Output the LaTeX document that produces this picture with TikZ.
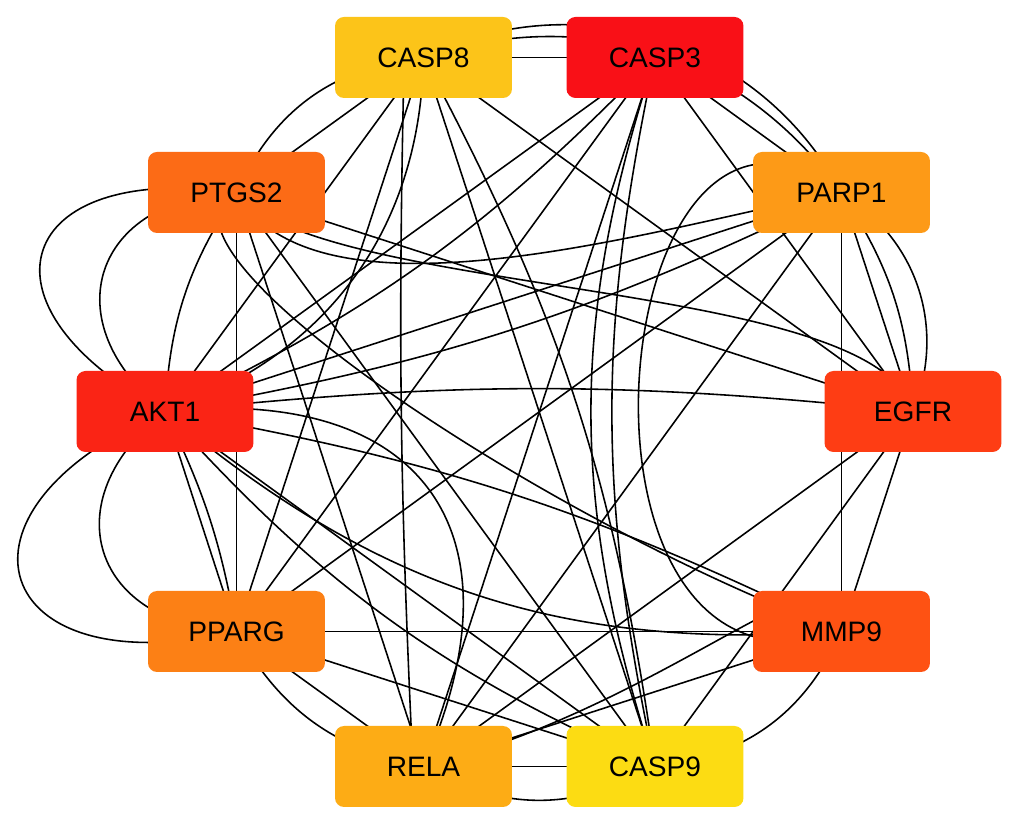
\documentclass[tikz,border=0pt]{standalone}
\usepackage{fontspec}
\setmainfont{Liberation Sans}

\pgfdeclarelayer{background}
\pgfsetlayers{background,main}

\definecolor{casp8col}{HTML}{FCC419}
\definecolor{casp3col}{HTML}{F91017}
\definecolor{parp1col}{HTML}{FD9A17}
\definecolor{egfrcol}{HTML}{FE3D14}
\definecolor{mmp9col}{HTML}{FE5213}
\definecolor{casp9col}{HTML}{FCDC13}
\definecolor{relacol}{HTML}{FDAC15}
\definecolor{ppargcol}{HTML}{FC8015}
\definecolor{akt1col}{HTML}{FA2415}
\definecolor{ptgs2col}{HTML}{FC6B16}

\begin{document}
\begin{tikzpicture} [x = 0.02cm, y = 0.02cm,
	gene/.style = {rounded corners = 0.18cm, minimum width = 3.54cm, minimum height = 1.62cm,
		inner sep = 0pt, font = \fontsize{16}{19}\selectfont},
	link/.style = {line width = 0.9pt, black}]

	\useasboundingbox (0,0) rectangle (1018,830);

		% Place genes on the ring.

	\node [gene, fill = casp8col] (CASP8) at (423.5, 772.5) {CASP8};
	\node [gene, fill = casp3col] (CASP3) at (655, 772.5) {CASP3};
	\node [gene, fill = parp1col] (PARP1) at (841.5, 637.5) {PARP1};
	\node [gene, fill = egfrcol] (EGFR) at (913, 418.5) {EGFR};
	\node [gene, fill = mmp9col] (MMP9) at (841.5, 198.5) {MMP9};
	\node [gene, fill = casp9col] (CASP9) at (655, 63.5) {CASP9};
	\node [gene, fill = relacol] (RELA) at (423.5, 63.5) {RELA};
	\node [gene, fill = ppargcol] (PPARG) at (236.5, 198.5) {PPARG};
	\node [gene, fill = akt1col] (AKT1) at (165, 418.5) {AKT1};
	\node [gene, fill = ptgs2col] (PTGS2) at (236.5, 637.5) {PTGS2};

\begin{pgfonlayer}{background}

	\fill [white] (0,0) rectangle (1018,830);

% Straight interactions.

	\draw[link] (CASP8.center) -- (CASP3.center);
	\draw[link] (CASP8.center) -- (PTGS2.center);
	\draw[link] (CASP8.center) -- (AKT1.center);
	\draw[link] (CASP8.center) -- (PPARG.center);
	\draw[link] (CASP8.center) -- (CASP9.center);
	\draw[link] (CASP8.center) -- (EGFR.center);

	\draw[link] (CASP3.center) -- (PARP1.center);
	\draw[link] (CASP3.center) -- (EGFR.center);
	\draw[link] (CASP3.center) -- (AKT1.center);
	\draw[link] (CASP3.center) -- (PPARG.center);
	\draw[link] (CASP3.center) -- (RELA.center);

	\draw[link] (PARP1.center) -- (EGFR.center);
	\draw[link] (PARP1.center) -- (MMP9.center);
	\draw[link] (PARP1.center) -- (AKT1.center);
	\draw[link] (PARP1.center) -- (PPARG.center);
	\draw[link] (PARP1.center) -- (RELA.center);

	\draw[link] (EGFR.center) -- (MMP9.center);
	\draw[link] (EGFR.center) -- (PTGS2.center);
	\draw[link] (EGFR.center) -- (RELA.center);
	\draw[link] (EGFR.center) -- (CASP9.center);

	\draw[link] (MMP9.center) -- (PPARG.center);
	\draw[link] (MMP9.center) -- (RELA.center);

	\draw[link] (AKT1.center) -- (PPARG.center);
	\draw[link] (AKT1.center) -- (CASP9.center);

	\draw[link] (PTGS2.center) -- (PPARG.center);
	\draw[link] (PTGS2.center) -- (RELA.center);
	\draw[link] (PTGS2.center) -- (CASP9.center);

	\draw[link] (PPARG.center) -- (RELA.center);
	\draw[link] (PPARG.center) -- (CASP9.center);
	\draw[link] (RELA.center) -- (CASP9.center);

% Curved (repeated) interactions.

	\draw[link] (CASP8.center) to [bend left = 36] (PARP1.center);
	\draw[link] (CASP8.center) to [bend left = 44] (PARP1.center);
	\draw[link] (CASP8.center) to [bend right = 30] (PTGS2.center);
	\draw[link] (CASP8.center) to [bend left = 10] (CASP9.center);
	\draw[link] (CASP8.center) to [bend left = 35] (AKT1.center);
	\draw[link] ([xshift = -11pt]CASP8.center) to [bend right = 2] ([xshift = -6pt]RELA.center);

	\draw[link] (CASP3.center) to [bend right = 12] (CASP9.center);
	\draw[link] (CASP3.center) to [bend right = 18] (CASP9.center);

	\draw[link] (PARP1.center) to [bend left = 15] (EGFR.center);
	\draw[link] (PARP1.center) to [bend left = 40] (EGFR.center);
	\draw[link] (PARP1.center) .. controls +(-240,180) and +(-300,-100) .. (MMP9.center);

	\draw[link] (PTGS2.center) .. controls +(83,-144) and +(-163,-29) .. (PARP1.center);
	\draw[link] (PTGS2.center) .. controls +(89,-106) and +(-36,134) .. (EGFR.center);
	\draw[link] (PTGS2.center) .. controls +(-110,-50) and +(-300,110) .. (MMP9.center);
	\draw[link] (PTGS2.center) to [bend right = 15] (AKT1.center);
	\draw[link] (PTGS2.center) to [bend right = 70, looseness = 1.6] (AKT1.center);
	\draw[link] (PTGS2.center) to [bend right = 80, looseness = 2.5] (AKT1.center);

	\draw[link] (AKT1.center) to [bend left = 8] (PPARG.center);
	\draw[link] (AKT1.center) to [bend right = 70, looseness = 1.6] (PPARG.center);
	\draw[link] (AKT1.center) to [bend right = 85, looseness = 2.8] (PPARG.center);
	\draw[link] (AKT1.center) to [bend left = 60, looseness = 1.5] (RELA.center);
	\draw[link] (AKT1.center) to [bend right = 12] (CASP9.center);
	\draw[link] (AKT1.center) to [bend left = 6] (EGFR.center);
	\draw[link] (AKT1.center) to [bend right = 10] (CASP3.center);
	\draw[link] (AKT1.center) to [bend right = 8] (PARP1.center);
	\draw[link] (AKT1.center) to [bend right = 22] (MMP9.center);
	\draw[link] (AKT1.center) to [bend left = 8] (MMP9.center);

	\draw[link] (MMP9.center) .. controls +(20,120) and +(250,60) .. (RELA.center);
	\draw[link] (MMP9.center) to [bend left = 30] (CASP9.center);
	\draw[link] (RELA.center) to [bend right = 30] (CASP9.center);
	\draw[link] (PPARG.center) to [bend right = 25] (RELA.center);

\end{pgfonlayer}

\end{tikzpicture}
\end{document}
